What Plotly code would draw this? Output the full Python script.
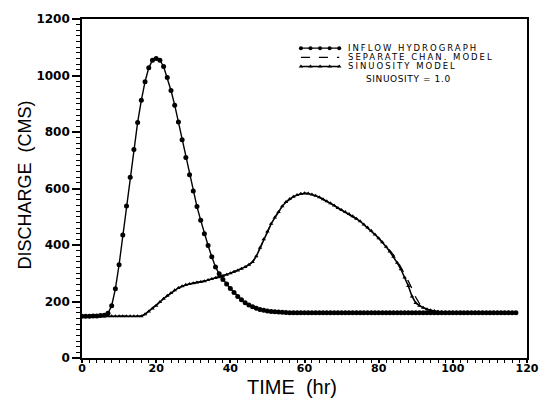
import plotly.graph_objects as go

# ---- data (hours 0..117) ----
hours = list(range(0, 118))

inflow = [148, 148, 148, 149, 149, 150, 151, 158, 185, 245,
          330, 435, 538, 640, 738, 834, 912, 978, 1027, 1054,
          1060, 1054, 1032, 993, 947, 895, 835, 773, 710, 649,
          591, 536, 488, 440, 398, 358, 322, 298, 278, 262,
          246, 232, 218, 206, 196, 188, 181, 176, 172, 169,
          166, 165, 164, 163, 162, 161, 160, 160, 160, 160,
          160, 160, 160, 160, 160, 160, 160, 160, 160, 160,
          160, 160, 160, 160, 160, 160, 160, 160, 160, 160,
          160, 160, 160, 160, 160, 160, 160, 160, 160, 160,
          160, 160, 160, 160, 160, 160, 160, 160, 160, 160,
          160, 160, 160, 160, 160, 160, 160, 160, 160, 160,
          160, 160, 160, 160, 160, 160, 160, 160]

sinuosity = [148, 148, 148, 148, 148, 148, 148, 148, 148, 148,
             148, 148, 148, 148, 148, 148, 148, 155, 165, 175,
             185, 198, 210, 220, 230, 240, 248, 254, 259, 262,
             265, 267, 269, 272, 276, 280, 283, 286, 290, 295,
             300, 305, 310, 316, 322, 330, 340, 360, 390, 420,
             448, 475, 497, 517, 537, 552, 563, 571, 577, 581,
             583, 582, 579, 574, 569, 562, 555, 548, 540, 531,
             524, 517, 510, 502, 493, 484, 473, 462, 450, 437,
             424, 410, 394, 377, 358, 337, 314, 285, 255, 218,
             195, 185, 178, 173, 169, 166, 164, 162, 160, 160,
             160, 160, 160, 160, 160, 160, 160, 160, 160, 160,
             160, 160, 160, 160, 160, 160, 160, 160]

separate = [148, 148, 148, 148, 148, 148, 148, 148, 148, 148,
            148, 148, 148, 148, 148, 148, 148, 155, 165, 175,
            185, 198, 210, 220, 230, 240, 248, 254, 259, 262,
            265, 267, 269, 272, 276, 280, 283, 286, 290, 295,
            300, 305, 310, 316, 322, 330, 340, 360, 390, 420,
            448, 475, 497, 517, 537, 552, 563, 571, 577, 581,
            583, 582, 579, 574, 569, 562, 555, 548, 540, 531,
            524, 517, 510, 502, 493, 484, 473, 462, 450, 437,
            424, 411, 396, 380, 365, 345, 322, 300, 272, 245,
            215, 193, 180, 172, 168, 165, 163, 161, 160, 160,
            160, 160, 160, 160, 160, 160, 160, 160, 160, 160,
            160, 160, 160, 160, 160, 160, 160, 160]

x_ticks = [0, 20, 40, 60, 80, 100, 120]
y_ticks = [0, 200, 400, 600, 800, 1000, 1200]

legend_labels = ["INFLOW HYDROGRAPH", "SEPARATE CHAN. MODEL", "SINUOSITY MODEL"]
note_text = "SINUOSITY = 1.0"

FONT = "DejaVu Sans"
TFONT = "Liberation Sans"

fig = go.Figure()

fig.add_trace(go.Scatter(x=hours, y=separate, mode="lines",
                         line=dict(color="black", width=1.3, dash="dash"),
                         showlegend=False))
fig.add_trace(go.Scatter(x=hours, y=sinuosity, mode="lines+markers",
                         line=dict(color="black", width=1.6),
                         marker=dict(symbol="triangle-up", size=4, color="black"),
                         showlegend=False))
fig.add_trace(go.Scatter(x=hours, y=inflow, mode="lines+markers",
                         line=dict(color="black", width=1.4),
                         marker=dict(symbol="circle", size=5, color="black"),
                         showlegend=False))

# ---- legend samples on a hidden overlay axis (unit box) ----
leg_x = [0.492, 0.5135, 0.535, 0.5565, 0.578]
leg_rows = [0.914, 0.887, 0.860]
fig.add_trace(go.Scatter(x=leg_x, y=[leg_rows[0]] * 5, xaxis="x2", yaxis="y2",
                         mode="lines+markers", line=dict(color="black", width=1.3),
                         marker=dict(symbol="circle", size=4, color="black"),
                         showlegend=False, hoverinfo="skip"))
fig.add_trace(go.Scatter(x=[leg_x[0], leg_x[-1]], y=[leg_rows[1]] * 2, xaxis="x2", yaxis="y2",
                         mode="lines", line=dict(color="black", width=1.3, dash="dash"),
                         showlegend=False, hoverinfo="skip"))
fig.add_trace(go.Scatter(x=leg_x, y=[leg_rows[2]] * 5, xaxis="x2", yaxis="y2",
                         mode="lines+markers", line=dict(color="black", width=1.5),
                         marker=dict(symbol="triangle-up", size=4, color="black"),
                         showlegend=False, hoverinfo="skip"))

annotations = []
for lab, yy in zip(legend_labels, leg_rows):
    annotations.append(dict(text='<span style="letter-spacing:2px">' + lab + '</span>',
                            x=0.595, y=yy, xref="paper", yref="paper",
                            xanchor="left", yanchor="middle", showarrow=False, borderpad=0,
                            font=dict(family=FONT, size=8.5, color="black")))
annotations.append(dict(text='<span style="letter-spacing:0.6px">' + note_text + '</span>',
                        x=0.637, y=0.824, xref="paper", yref="paper",
                        xanchor="left", yanchor="middle", showarrow=False, borderpad=0,
                        font=dict(family=FONT, size=9, color="black")))
annotations.append(dict(text="TIME  (hr)", x=0.473, y=-0.087, xref="paper", yref="paper",
                        xanchor="center", yanchor="middle", showarrow=False,
                        font=dict(family=TFONT, size=20, color="black")))
annotations.append(dict(text="DISCHARGE  (CMS)", x=-0.127, y=0.51, xref="paper", yref="paper",
                        xanchor="center", yanchor="middle", showarrow=False, textangle=-90,
                        font=dict(family=TFONT, size=18, color="black")))

fig.update_layout(
    width=551, height=404,
    margin=dict(l=82, r=14, t=14, b=46),
    paper_bgcolor="white", plot_bgcolor="white",
    showlegend=False,
    annotations=annotations,
    xaxis=dict(range=[0, 120], tickvals=x_ticks, ticks="outside", ticklen=3, tickwidth=1.5,
               tickcolor="black", showline=True, linecolor="black", linewidth=1.6, mirror=True,
               showgrid=False, zeroline=False, ticklabelstandoff=-4,
               tickfont=dict(family=FONT, size=11, color="black", weight="bold"),
               minor=dict(ticks="outside", ticklen=3, tickwidth=1.2, tickcolor="black",
                          dtick=2, showgrid=False)),
    yaxis=dict(range=[0, 1200], tickvals=y_ticks, ticks="outside", ticklen=8, tickwidth=1.5,
               tickcolor="black", showline=True, linecolor="black", linewidth=1.6, mirror=True,
               showgrid=False, zeroline=False,
               tickfont=dict(family=FONT, size=12, color="black", weight="bold"),
               minor=dict(ticks="outside", ticklen=4, tickwidth=1.2, tickcolor="black",
                          dtick=20, showgrid=False)),
    xaxis2=dict(range=[0, 1], overlaying="x", visible=False, domain=[0, 1]),
    yaxis2=dict(range=[0, 1], overlaying="y", visible=False, domain=[0, 1]),
)

fig.write_html("out.html")
